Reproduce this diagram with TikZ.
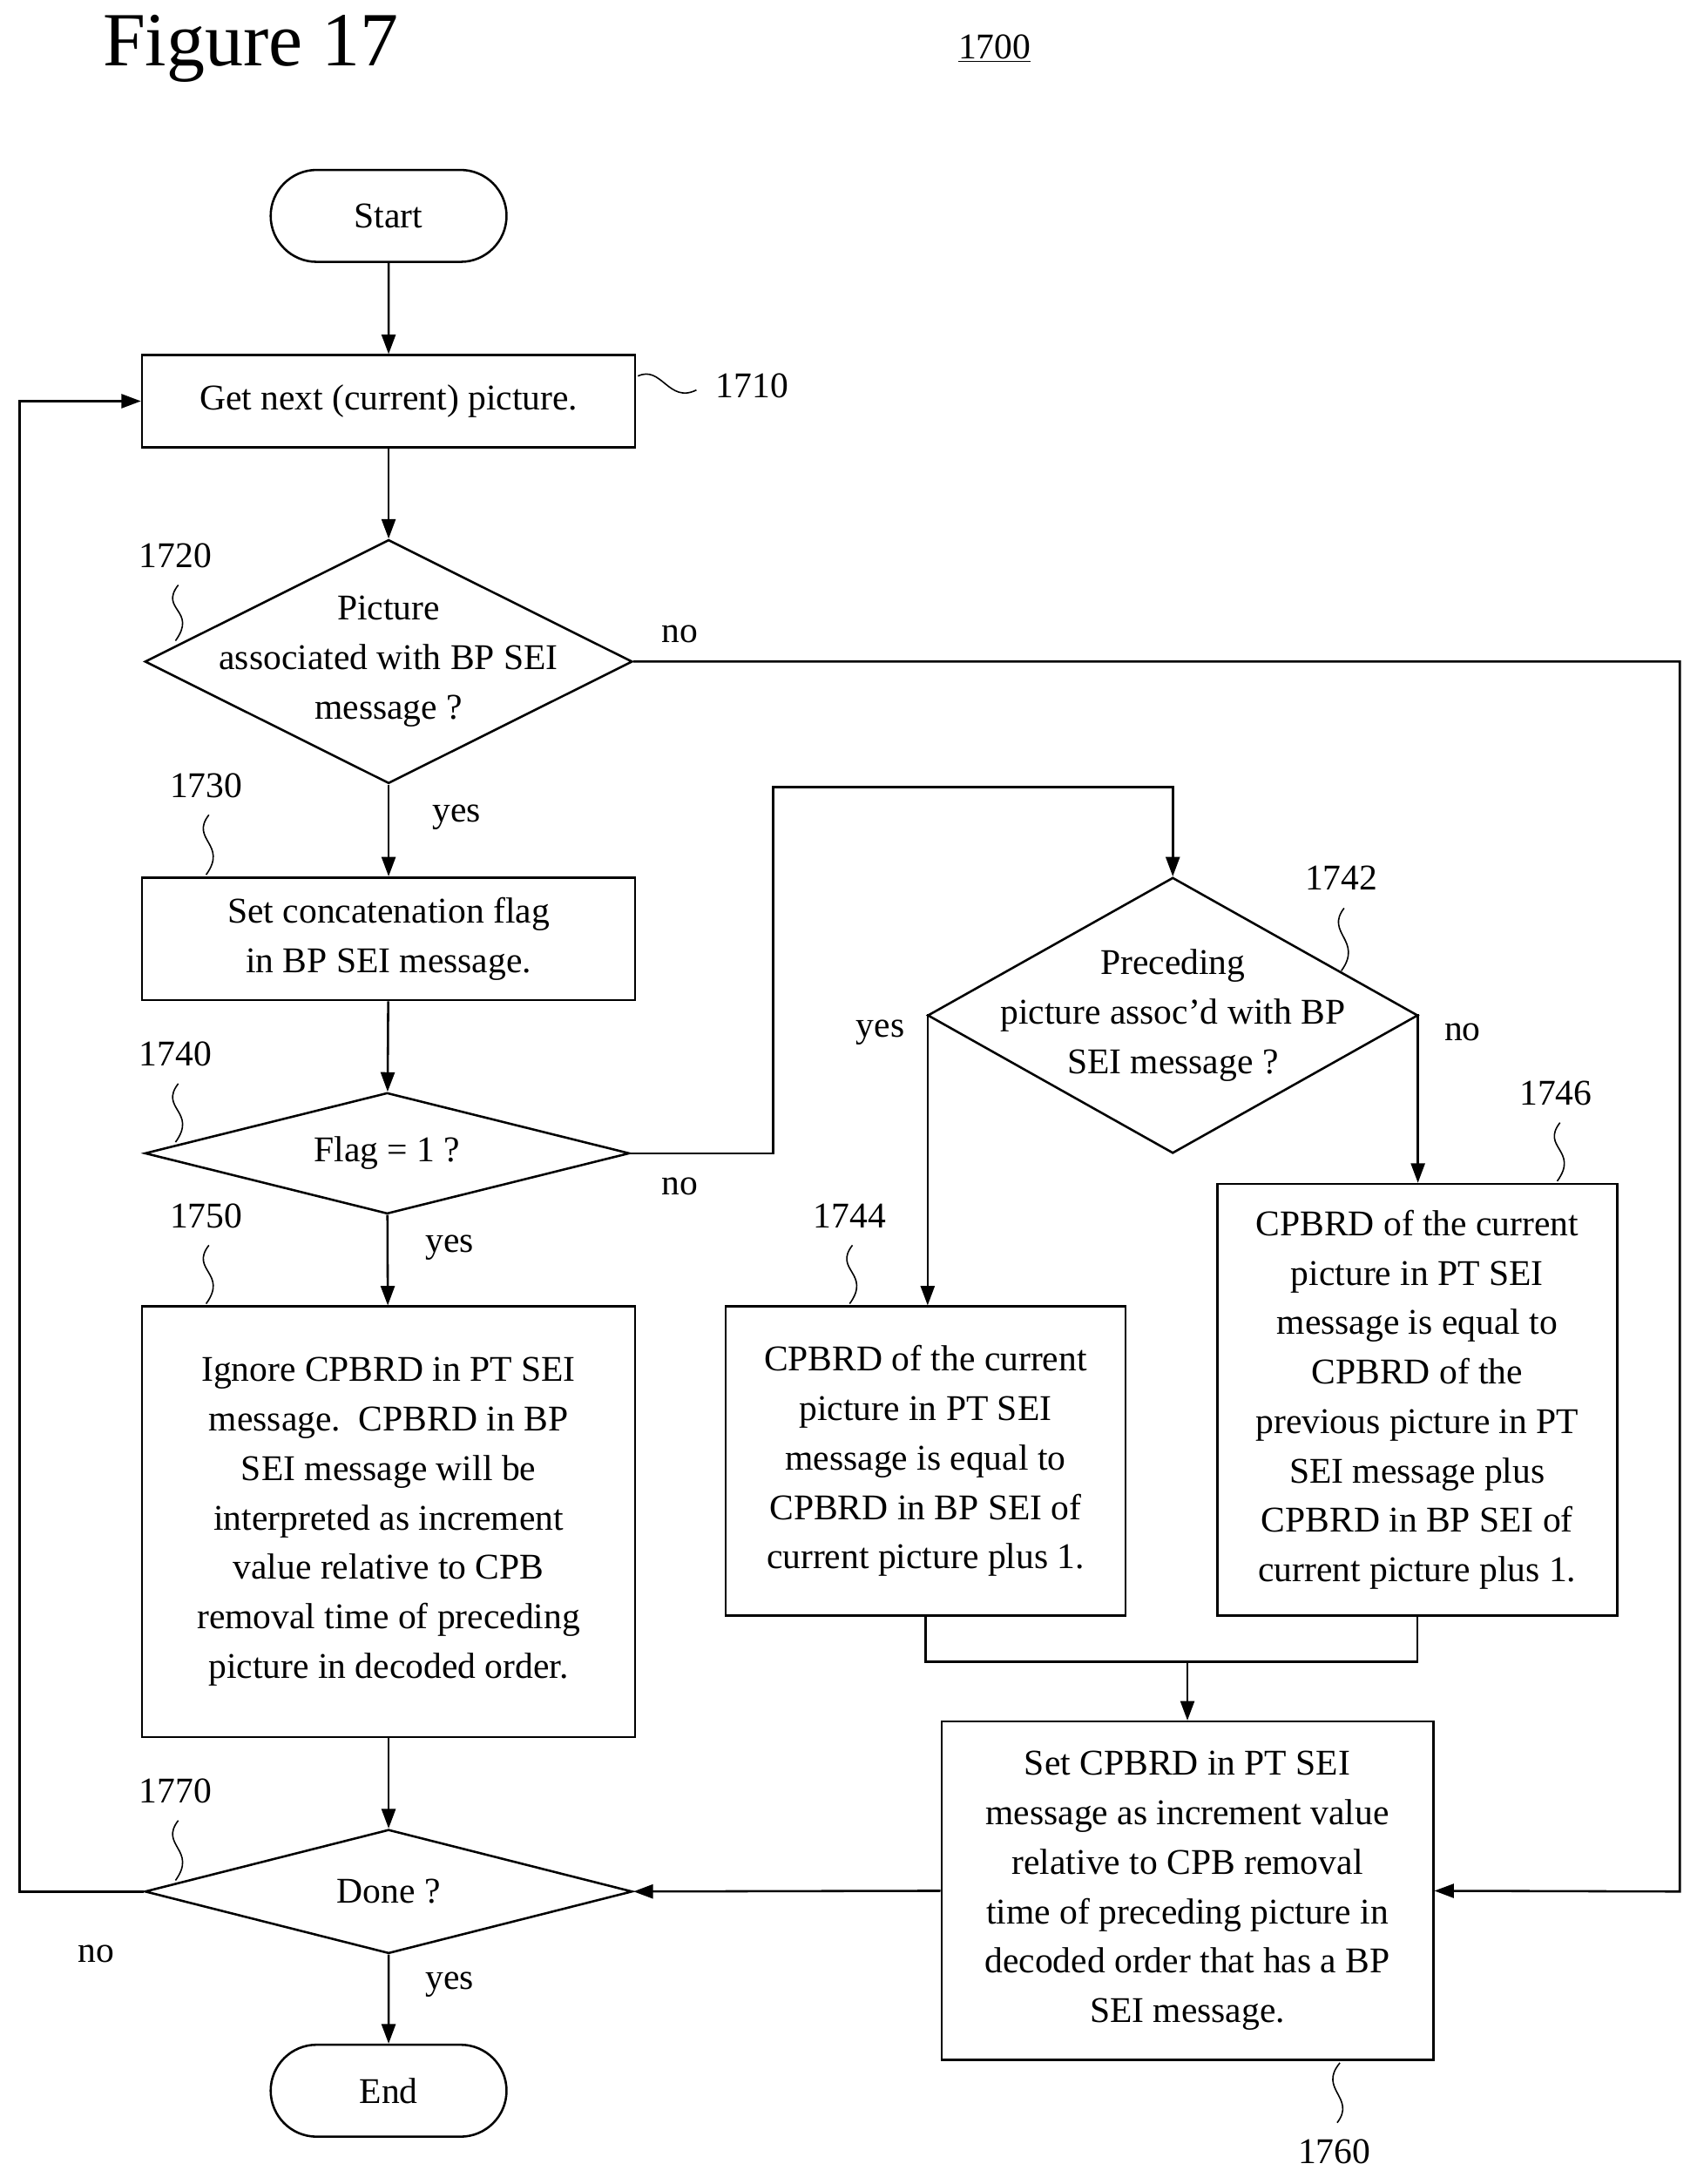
\documentclass[tikz,border=0pt]{standalone}
\usepackage{fontspec}
\setmainfont{Liberation Serif}
\usetikzlibrary{shapes.geometric,shapes.misc,arrows.meta}
\begin{document}
\begin{tikzpicture}[x=1pt,y=-1pt,
  every node/.style={font=\fontsize{26}{35.5}\selectfont},
  box/.style={draw,line width=1.6pt,inner sep=0pt,align=center},
  dia/.style={draw,line width=1.6pt,diamond,inner sep=0pt},
  term/.style={draw,line width=1.6pt,rounded rectangle,minimum width=176pt,minimum height=66pt},
  ln/.style={line width=1.6pt},
  ar/.style={line width=1.6pt,-{Triangle[length=14pt,width=10pt]}},
  sq/.style={line width=1pt}]
\useasboundingbox (0,0) rectangle (1218,1568);
\node[font=\fontsize{55}{60}\selectfont] (title) at (180,35) {Figure 17};
\node (fig) at (714,35) {\underline{1700}};

\node[term] (start) at (279,155) {Start};
\node[box,minimum width=354pt,minimum height=66pt] (b1710) at (279,288) {Get next (current) picture.};
\node[dia,minimum width=350pt,minimum height=175pt] (d1720) at (279,475) {};
\node[align=center] (t1720) at (279,475) {Picture\\associated with BP SEI\\message ?};
\node[box,minimum width=354pt,minimum height=88pt] (b1730) at (279,674) {Set concatenation flag\\in BP SEI message.};
\node[dia,minimum width=348pt,minimum height=87pt] (d1740) at (278,828) {};
\node (t1740) at (278,828) {Flag = 1 ?};
\node[box,minimum width=354pt,minimum height=309pt] (b1750) at (279,1092.5) {Ignore CPBRD in PT SEI\\message.\ \ CPBRD in BP\\SEI message will be\\interpreted as increment\\value relative to CPB\\removal time of preceding\\picture in decoded order.};
\node[dia,minimum width=350pt,minimum height=89pt] (d1770) at (279,1358) {};
\node (t1770) at (279,1358) {Done ?};
\node[term] (end) at (279,1501) {End};

\node[dia,minimum width=352pt,minimum height=198pt] (d1742) at (842,729) {};
\node[align=center] (t1742) at (842,729) {Preceding\\picture assoc'd with BP\\SEI message ?};
\node[box,minimum width=287pt,minimum height=222pt] (b1744) at (664.5,1049) {CPBRD of the current\\picture in PT SEI\\message is equal to\\CPBRD in BP SEI of\\current picture plus 1.};
\node[box,minimum width=287pt,minimum height=310pt] (b1746) at (1017.5,1005) {CPBRD of the current\\picture in PT SEI\\message is equal to\\CPBRD of the\\previous picture in PT\\SEI message plus\\CPBRD in BP SEI of\\current picture plus 1.};
\node[box,minimum width=353pt,minimum height=243pt] (b1760) at (852.5,1357.5) {Set CPBRD in PT SEI\\message as increment value\\relative to CPB removal\\time of preceding picture in\\decoded order that has a BP\\SEI message.};

% connectors
\draw[ar] (start) -- (b1710);
\draw[ar] (b1710) -- (d1720);
\draw[ar] (d1720) -- (b1730);
\draw[ar] (b1730) -- (d1740);
\draw[ar] (d1740) -- (b1750);
\draw[ar] (b1750) -- (d1770);
\draw[ar] (d1770) -- (end);
\coordinate (l1) at (14,1358); \coordinate (l2) at (14,288);
\draw[ar] (d1770.west) -- (l1) -- (l2) -- (b1710.west);
\coordinate (r1) at (1206,475); \coordinate (r2) at (1206,1358);
\draw[ar] (d1720.east) -- (r1) -- (r2) -- (b1760.east);
\coordinate (n1) at (555,828); \coordinate (n2) at (555,565); \coordinate (n3) at (842,565);
\draw[ar] (d1740.east) -- (n1) -- (n2) -- (n3) -- (d1742.north);
\coordinate (y1) at (666,729);
\draw[ar] (d1742.west) -- (y1) -- (y1 |- b1744.north);
\coordinate (z1) at (1018,729);
\draw[ar] (d1742.east) -- (z1) -- (z1 |- b1746.north);
\coordinate (j1) at (664.5,1193); \coordinate (j2) at (1017.5,1193); \coordinate (j3) at (852.5,1193);
\draw[ln] (b1744.south) -- (j1) -- (j2) -- (b1746.south);
\draw[ar] (j3) -- (b1760.north);
\draw[ar] (b1760.west) -- (d1770.east);

% labels
\node (no1) at (488,455) {no};
\node (yes1) at (328,587) {yes};
\node (no2) at (488,852) {no};
\node (yes2) at (323,896) {yes};
\node (yes3) at (632,741) {yes};
\node (no3) at (1050,741) {no};
\node (no4) at (69,1403) {no};
\node (yes4) at (323,1425) {yes};

% reference numerals
\node (r1710) at (540,277) {1710};
\node (r1720) at (126,399) {1720};
\node (r1730) at (148,564) {1730};
\node (r1740) at (126,757) {1740};
\node (r1750) at (148,873) {1750};
\node (r1770) at (126,1286) {1770};
\node (r1742) at (963,630) {1742};
\node (r1744) at (610,873) {1744};
\node (r1746) at (1117,785) {1746};
\node (r1760) at (958,1545) {1760};
\draw[sq] (458,270) .. controls (475,262) and (480,290) .. (500,280);
\foreach \x/\ya/\yb in {128/420/460, 150/585/628, 128/778/820, 150/894/936, 128/1307/1350, 965/652/697, 612/894/936, 1120/806/848}{
  \draw[sq] (\x,\ya) .. controls (\x-14,\ya+18) and (\x+14,\yb-22) .. (\x-2,\yb);
}
\draw[sq] (960,1524) .. controls (974,1506) and (946,1500) .. (962,1481);
\end{tikzpicture}
\end{document}
